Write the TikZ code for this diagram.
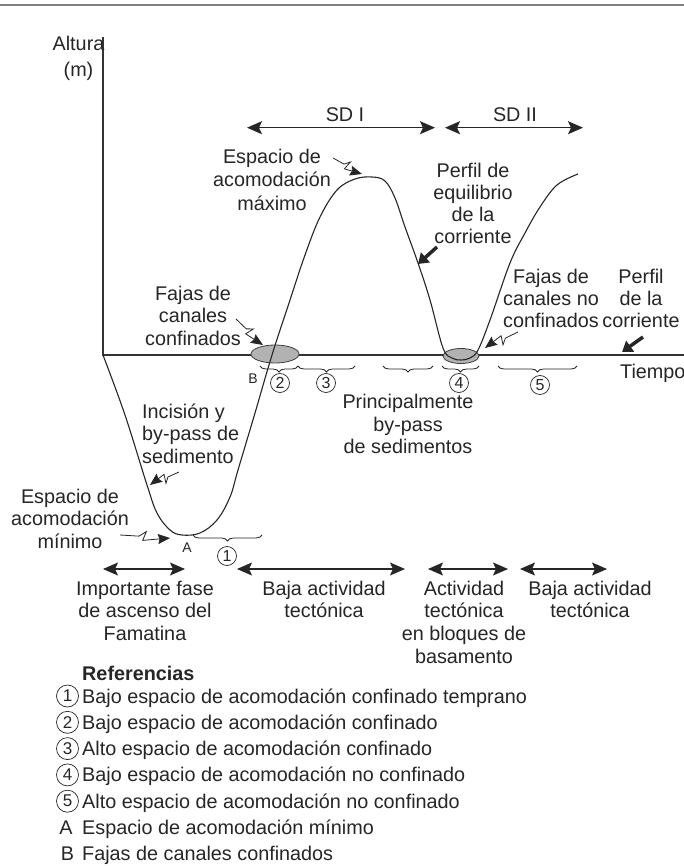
\documentclass[tikz,border=0pt]{standalone}
\usepackage{fontspec}
\setmainfont{Liberation Sans}
\usetikzlibrary{arrows.meta,calc,decorations.pathreplacing,shapes.geometric}

\tikzset{
  txt/.style={align=center, inner sep=0pt, anchor=north, font=\fontsize{19.8}{22.5}\selectfont},
  eje/.style={line width=1.8pt, black!80},
  perfil/.style={line width=1.1pt},
  flecha/.style={{Stealth[length=15pt,width=13pt,inset=3pt]}-{Stealth[length=15pt,width=13pt,inset=3pt]}, line width=1.5pt},
  rayo/.style={-{Stealth[length=12pt,width=10pt,inset=1.5pt]}, line width=0.8pt,
    to path={-- ($(\tikztostart)!0.38!(\tikztotarget)$)
      -- ($(\tikztostart)!0.52!(\tikztotarget)!5pt!90:(\tikztotarget)$)
      -- ($(\tikztostart)!0.46!(\tikztotarget)!4pt!-90:(\tikztotarget)$)
      -- (\tikztotarget)}},
  gruesa/.style={-{Triangle[length=10pt,width=13pt]}, line width=3.5pt},
  llave/.style={decorate, decoration={brace, mirror, amplitude=6pt}, line width=0.8pt},
  num/.style={circle, draw, line width=0.7pt, inner sep=0pt, minimum size=19pt, font=\fontsize{16}{16}\selectfont},
  numref/.style={num, minimum size=22pt, font=\fontsize{17}{17}\selectfont},
  faja/.style={ellipse, draw=black!75, fill=black!30, line width=0.8pt, inner sep=0pt},
  letra/.style={inner sep=0pt, anchor=base, font=\fontsize{14}{14}\selectfont},
  ref/.style={inner sep=0pt, anchor=base west, font=\fontsize{19.8}{26}\selectfont},
}

\begin{document}
\begin{tikzpicture}[x=1pt,y=-1pt,color=black!85]
\path[use as bounding box, fill=white] (0,0) rectangle (684,866);
\draw[black!50, line width=2pt] (0,5) -- (684,5);

% ejes
\coordinate (ytop) at (103,37);
\coordinate (O) at (103,355);
\coordinate (xend) at (684,355);
\draw[eje] (ytop) -- (O) -- (xend);
\node[txt, font=\fontsize{19.8}{26}\selectfont] (altura) at (78.5,36) {Altura\\(m)};
\node[inner sep=0pt, anchor=base west, font=\fontsize{19.8}{22.5}\selectfont] (tiempo) at (620,378) {Tiempo};

% fajas de canales
\node[faja, minimum width=48pt, minimum height=18pt] (fajaB) at (275,354) {};
\node[faja, minimum width=36pt, minimum height=15pt] (faja4) at (461,356) {};

% curva de acomodacion
\draw[perfil] plot[smooth, tension=0.6] coordinates {(103,355) (125,415) (147,485) (157,513) (170,530) (182,535)
  (200,533) (217,520) (230,497) (238,470) (255,413) (272,355) (290,300) (305,255) (320,217) (337,190)
  (355,179) (372,177) (385,181) (395,198) (405,227) (418,263) (430,300) (443,348) (452,358) (461,360)
  (470,358) (478,350) (490,320) (510,263) (525,233) (540,207) (557,185) (578,174)};

% secuencias
\node[txt, anchor=base] (sd1) at (345,122) {SD I};
\node[txt, anchor=base] (sd2) at (515,122) {SD II};
\coordinate (sd1a) at (247,127.7);
\coordinate (sd1b) at (435,127.7);
\coordinate (sd2a) at (445,127.7);
\coordinate (sd2b) at (583,127.7);
\draw[flecha] (sd1a) -- (sd1b);
\draw[flecha] (sd2a) -- (sd2b);

% rotulos
\node[txt, font=\fontsize{19.8}{23.5}\selectfont] (maxi) at (272,148.6) {Espacio de\\acomodación\\máximo};
\node[txt, font=\fontsize{19.8}{22}\selectfont] (equi) at (473,162.6) {Perfil de\\equilibrio\\de la\\corriente};
\node[txt] (fconf) at (193,285.6) {Fajas de\\canales\\confinados};
\node[txt, font=\fontsize{19.8}{22}\selectfont] (fnoconf) at (551,268.6) {Fajas de\\canales no\\confinados};
\node[txt, font=\fontsize{19.8}{22}\selectfont] (corr) at (641,268.6) {Perfil\\de la\\corriente};
\node[txt] (bypass) at (408,394) {Principalmente\\by-pass\\de sedimentos};
\node[txt, align=left, anchor=north west] (incis) at (142,403.6) {Incisión y\\by-pass de\\sedimento};
\node[txt] (mini) at (70,488.6) {Espacio de\\acomodación\\mínimo};

% flechas quebradas
\coordinate (zmax1) at (333,158);
\coordinate (zmax2) at (362,174);
\coordinate (zfc1) at (236,319);
\coordinate (zfc2) at (263,345);
\coordinate (zfn1) at (518,332);
\coordinate (zfn2) at (485,348);
\coordinate (zinc1) at (179,472);
\coordinate (zinc2) at (150,485);
\coordinate (zmin1) at (120,535);
\coordinate (zmin2) at (170,538);
\draw[rayo] (zmax1) to (zmax2);
\draw[rayo] (zfc1) to (zfc2);
\draw[rayo] (zfn1) to (zfn2);
\draw[rayo] (zinc1) to (zinc2);
\draw[rayo] (zmin1) to (zmin2);

\coordinate (geq1) at (437,247);
\coordinate (geq2) at (418,264);
\coordinate (gco1) at (643,337);
\coordinate (gco2) at (622,352);
\draw[gruesa] (geq1) -- (geq2);
\draw[gruesa] (gco1) -- (gco2);

% llaves
\draw[llave] (193,535) -- (262,535);
\draw[llave] (260,366) -- (298,366);
\draw[llave] (298,366) -- (355,366);
\draw[llave] (383,366) -- (433,366);
\draw[llave] (442,366) -- (479,366);
\draw[llave] (498,366) -- (577,366);
\node[num] (c1) at (227,556) {1};
\node[num] (c2) at (280,383) {2};
\node[num] (c3) at (326,383) {3};
\node[num] (c4) at (459,383) {4};
\node[num] (c5) at (540,385) {5};
\node[letra] (la) at (187,552) {A};
\node[letra] (lb) at (253,383) {B};

% actividad tectonica
\coordinate (t1a) at (103,569);
\coordinate (t1b) at (185,569);
\coordinate (t2a) at (237,569);
\coordinate (t2b) at (405,569);
\coordinate (t3a) at (428,569);
\coordinate (t3b) at (508,569);
\coordinate (t4a) at (520,569);
\coordinate (t4b) at (607,569);
\draw[flecha] (t1a) -- (t1b);
\draw[flecha] (t2a) -- (t2b);
\draw[flecha] (t3a) -- (t3b);
\draw[flecha] (t4a) -- (t4b);
\node[txt] (imp) at (145,580.6) {Importante fase\\de ascenso del\\Famatina};
\node[txt] (baja1) at (324,580.6) {Baja actividad\\tectónica};
\node[txt, font=\fontsize{19.8}{22.7}\selectfont] (activ) at (464,580.6) {Actividad\\tectónica\\en bloques de\\basamento};
\node[txt] (baja2) at (590,580.6) {Baja actividad\\tectónica};

% referencias
\node[ref, font=\fontsize{19.8}{26}\selectfont\bfseries] (refs) at (82,680) {Referencias};
\node[ref] (r1) at (82,703) {Bajo espacio de acomodación confinado temprano};
\node[ref] (r2) at (82,729.3) {Bajo espacio de acomodación confinado};
\node[ref] (r3) at (82,755.6) {Alto espacio de acomodación confinado};
\node[ref] (r4) at (82,781.9) {Bajo espacio de acomodación no confinado};
\node[ref] (r5) at (82,808.2) {Alto espacio de acomodación no confinado};
\node[ref] (ra) at (82,834.5) {Espacio de acomodación mínimo};
\node[ref] (rb) at (82,860.8) {Fajas de canales confinados};
\node[numref] (k1) at (67.5,696) {1};
\node[numref] (k2) at (67.5,722.3) {2};
\node[numref] (k3) at (67.5,748.6) {3};
\node[numref] (k4) at (67.5,774.9) {4};
\node[numref] (k5) at (67.5,801.2) {5};
\node[ref, anchor=base] (ka) at (66,834.5) {A};
\node[ref, anchor=base] (kb) at (67.5,860.8) {B};
\end{tikzpicture}
\end{document}
